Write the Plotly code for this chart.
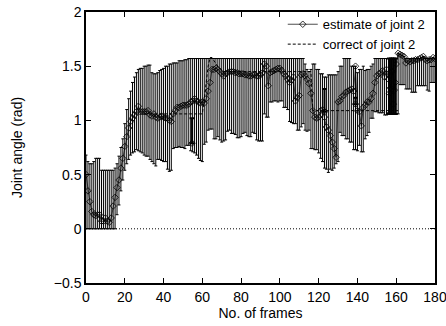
import numpy as np
import plotly.graph_objects as go

frames = list(range(0, 181))

estimate = [
    0.50, 0.35, 0.25, 0.16, 0.13, 0.12, 0.13, 0.13, 0.07, 0.07,
    0.10, 0.07, 0.06, 0.10, 0.21, 0.29, 0.38, 0.45, 0.56, 0.65,
    0.76, 0.85, 0.93, 0.99, 1.02, 1.05, 1.08, 1.13, 1.08, 1.08,
    1.08, 1.08, 1.09, 1.05, 1.04, 1.06, 1.03, 1.02, 1.03, 1.04,
    1.03, 1.02, 1.02, 1.00, 0.99, 1.06, 1.09, 1.12, 1.12, 1.13,
    1.14, 1.14, 1.14, 1.15, 1.17, 1.18, 1.20, 1.18, 1.17, 1.16,
    1.17, 1.16, 1.20, 1.27, 1.35, 1.47, 1.47, 1.48, 1.47, 1.45,
    1.43, 1.41, 1.43, 1.44, 1.45, 1.45, 1.45, 1.44, 1.44, 1.43,
    1.43, 1.43, 1.42, 1.42, 1.41, 1.41, 1.42, 1.42, 1.41, 1.41,
    1.42, 1.44, 1.52, 1.50, 1.32, 1.44, 1.45, 1.46, 1.47, 1.48,
    1.48, 1.46, 1.43, 1.41, 1.38, 1.35, 1.37, 1.40, 1.18, 1.21,
    1.23, 1.42, 1.43, 1.41, 1.38, 1.34, 1.25, 1.09, 1.03, 1.02,
    1.03, 1.09, 1.10, 1.03, 0.94, 0.91, 0.86, 0.80, 0.74, 0.66,
    1.17, 1.18, 1.22, 1.23, 1.26, 1.27, 1.28, 1.29, 1.27, 1.50,
    1.09, 1.08, 0.95, 1.12, 1.14, 1.17, 1.17, 1.20, 1.25, 1.35,
    1.41, 1.43, 1.44, 1.46, 1.40, 1.47, 1.38, 1.30, 1.45, 1.28,
    1.52, 1.62, 1.61, 1.60, 1.59, 1.53, 1.55, 1.54, 1.55, 1.55,
    1.56, 1.56, 1.57, 1.58, 1.59, 1.56, 1.55, 1.56, 1.56, 1.58, 1.57,
]

upper = [
    0.68, 0.62, 0.60, 0.60, 0.62, 0.65, 0.65, 0.65, 0.54, 0.54,
    0.54, 0.54, 0.54, 0.54, 0.54, 0.56, 0.60, 0.67, 0.75, 0.83,
    0.97, 1.10, 1.20, 1.27, 1.35, 1.40, 1.44, 1.47, 1.48, 1.48,
    1.50, 1.50, 1.51, 1.51, 1.44, 1.43, 1.43, 1.44, 1.46, 1.47,
    1.48, 1.50, 1.50, 1.52, 1.52, 1.53, 1.53, 1.53, 1.55, 1.55,
    1.55, 1.56, 1.56, 1.5708, 1.5708, 1.5708, 1.5708, 1.5708, 1.5708, 1.5708,
    1.5708, 1.5708, 1.5708, 1.5708, 1.5708, 1.5708, 1.5708, 1.5708, 1.5708, 1.5708,
    1.5708, 1.5708, 1.5708, 1.5708, 1.5708, 1.5708, 1.5708, 1.5708, 1.5708, 1.5708,
    1.5708, 1.5708, 1.5708, 1.5708, 1.5708, 1.5708, 1.5708, 1.5708, 1.5708, 1.5708,
    1.5708, 1.5708, 1.5708, 1.5708, 1.5708, 1.5708, 1.5708, 1.5708, 1.5708, 1.5708,
    1.5708, 1.5708, 1.5708, 1.5708, 1.5708, 1.5708, 1.5708, 1.5708, 1.5708, 1.5708,
    1.5708, 1.5708, 1.5708, 1.52, 1.47, 1.45, 1.47, 1.52, 1.52, 1.47,
    1.47, 1.43, 1.43, 1.40, 1.40, 1.42, 1.42, 1.42, 1.42, 1.42,
    1.45, 1.50, 1.50, 1.5708, 1.5708, 1.5708, 1.5708, 1.50, 1.50, 1.50,
    1.44, 1.47, 1.47, 1.50, 1.46, 1.47, 1.47, 1.50, 1.52, 1.5708,
    1.5708, 1.5708, 1.5708, 1.5708, 1.5708, 1.5708, 1.5708, 1.5708, 1.5708, 1.5708,
    1.5708, 1.5708, 1.5708, 1.5708, 1.5708, 1.5708, 1.5708, 1.5708, 1.5708, 1.5708,
    1.5708, 1.5708, 1.5708, 1.5708, 1.5708, 1.5708, 1.5708, 1.5708, 1.5708, 1.5708, 1.5708,
]

lower = [
    0.0, 0.0, 0.0, 0.0, 0.0, 0.0, 0.0, 0.0, 0.0, 0.0,
    0.0, 0.0, 0.0, 0.0, 0.0, 0.0, 0.13, 0.22, 0.35, 0.45,
    0.54, 0.60, 0.64, 0.68, 0.70, 0.71, 0.73, 0.72, 0.71, 0.70,
    0.68, 0.67, 0.67, 0.64, 0.62, 0.60, 0.58, 0.64, 0.64, 0.63,
    0.62, 0.62, 0.55, 0.53, 0.54, 0.74, 0.75, 0.75, 0.76, 0.75,
    0.75, 0.74, 0.77, 0.77, 0.72, 0.71, 0.70, 0.68, 0.65, 0.63,
    0.62, 0.78, 0.80, 0.91, 0.92, 0.92, 0.83, 0.83, 0.85, 0.82,
    0.80, 0.81, 0.82, 0.90, 0.91, 0.88, 0.88, 0.87, 0.84, 0.84,
    0.85, 0.88, 0.89, 0.86, 0.85, 0.85, 0.89, 0.88, 0.82, 0.81,
    0.81, 0.81, 1.06, 1.03, 1.03, 1.17, 1.17, 1.18, 1.18, 1.17,
    1.18, 1.18, 1.12, 1.12, 1.10, 0.99, 0.98, 0.97, 0.97, 0.91,
    0.91, 0.94, 0.97, 0.91, 0.90, 0.91, 0.74, 0.74, 0.73, 0.73,
    0.70, 0.65, 0.62, 0.56, 0.55, 0.52, 0.55, 0.54, 0.56, 0.60,
    0.62, 0.89, 0.86, 0.86, 0.83, 0.83, 0.80, 0.80, 0.73, 0.73,
    0.72, 0.77, 0.71, 0.71, 0.83, 0.86, 0.89, 1.02, 1.02, 1.08,
    1.08, 1.07, 1.07, 1.07, 1.05, 1.05, 1.07, 1.07, 1.06, 1.07,
    1.06, 1.06, 1.33, 1.33, 1.33, 1.29, 1.29, 1.29, 1.26, 1.26,
    1.26, 1.32, 1.32, 1.32, 1.32, 1.32, 1.28, 1.27, 1.35, 1.35, 1.35,
]

# extra overlapping estimates (appear as darker bars)
extra_frames = [54.7, 123.0, 139.0, 156.5, 157.5, 158.5, 159.5]
extra_values = [0.79, 1.08, 1.15, 1.25, 1.45, 1.15, 1.35]
extra_upper = [1.02, 1.29, 1.21, 1.5708, 1.5708, 1.5708, 1.5708]
extra_lower = [0.79, 1.08, 1.15, 1.06, 1.06, 1.06, 1.06]

# correct value (dashed)
correct = ([None] * 30 + [1.06] * 31 +
           [1.20, 1.35, 1.50, 1.58, 1.58, 1.55, 1.52, 1.50, 1.48, 1.46] +
           [1.45] * 46 + [1.09] * 45 + [None] * 19)

x_ticks = [0, 20, 40, 60, 80, 100, 120, 140, 160, 180]
y_ticks = [-0.5, 0, 0.5, 1, 1.5, 2]

est = np.array(estimate)
plus = np.clip(np.array(upper) - est, 0, None)
minus = np.clip(est - np.array(lower), 0, None)

ev = np.array(extra_values)
eplus = np.clip(np.array(extra_upper) - ev, 0, None)
eminus = np.clip(ev - np.array(extra_lower), 0, None)

FONT = "Liberation Sans, Arial, Helvetica, sans-serif"

fig = go.Figure()

fig.add_trace(go.Scatter(
    x=frames, y=estimate, mode="lines+markers", name="estimate of joint 2",
    line=dict(color="black", width=0.7),
    marker=dict(symbol="diamond-open", size=5, color="black", line=dict(width=0.8, color="black")),
    error_y=dict(type="data", symmetric=False, array=plus, arrayminus=minus,
                 color="black", thickness=1, width=1.5),
))

fig.add_trace(go.Scatter(
    x=frames, y=correct, mode="lines", name="correct of joint 2",
    line=dict(color="black", width=1, dash="3px,2px"),
    connectgaps=False,
))

fig.add_trace(go.Scatter(
    x=extra_frames, y=extra_values, mode="markers", showlegend=False,
    marker=dict(symbol="diamond-open", size=5, color="black", line=dict(width=0.8, color="black")),
    error_y=dict(type="data", symmetric=False, array=eplus, arrayminus=eminus,
                 color="black", thickness=2, width=2.5),
))

fig.add_shape(type="line", xref="paper", yref="y", x0=0, x1=1, y0=0, y1=0,
              line=dict(color="black", width=1, dash="1px,2px"), layer="below")

axis_common = dict(
    showline=True, linecolor="black", linewidth=1.5, mirror="allticks",
    ticks="inside", ticklen=5, tickcolor="black", tickwidth=1,
    showgrid=False, zeroline=False, automargin=False,
    ticklabeloverflow="allow",
    tickfont=dict(family=FONT, size=14, color="black"),
)

fig.update_xaxes(range=[0, 180], tickvals=x_ticks,
                 title=dict(text="No. of frames", font=dict(family=FONT, size=14, color="black"), standoff=4),
                 **axis_common)
fig.update_yaxes(range=[-0.5, 2], tickvals=y_ticks,
                 title=dict(text="Joint angle (rad)", font=dict(family=FONT, size=14, color="black"), standoff=28),
                 **axis_common)

fig.update_layout(
    width=446, height=326,
    margin=dict(l=86, r=11, t=9, b=43),
    paper_bgcolor="white", plot_bgcolor="white",
    font=dict(family=FONT, size=14, color="black"),
    legend=dict(x=0.985, y=1.01, xanchor="right", yanchor="top",
                bgcolor="rgba(0,0,0,0)", font=dict(family=FONT, size=13, color="black"),
                tracegroupgap=0, itemwidth=30),
    showlegend=True,
)

fig.write_html("out.html", config={"displayModeBar": False},
               post_script="document.body.style.margin='0';document.body.style.padding='0';")
